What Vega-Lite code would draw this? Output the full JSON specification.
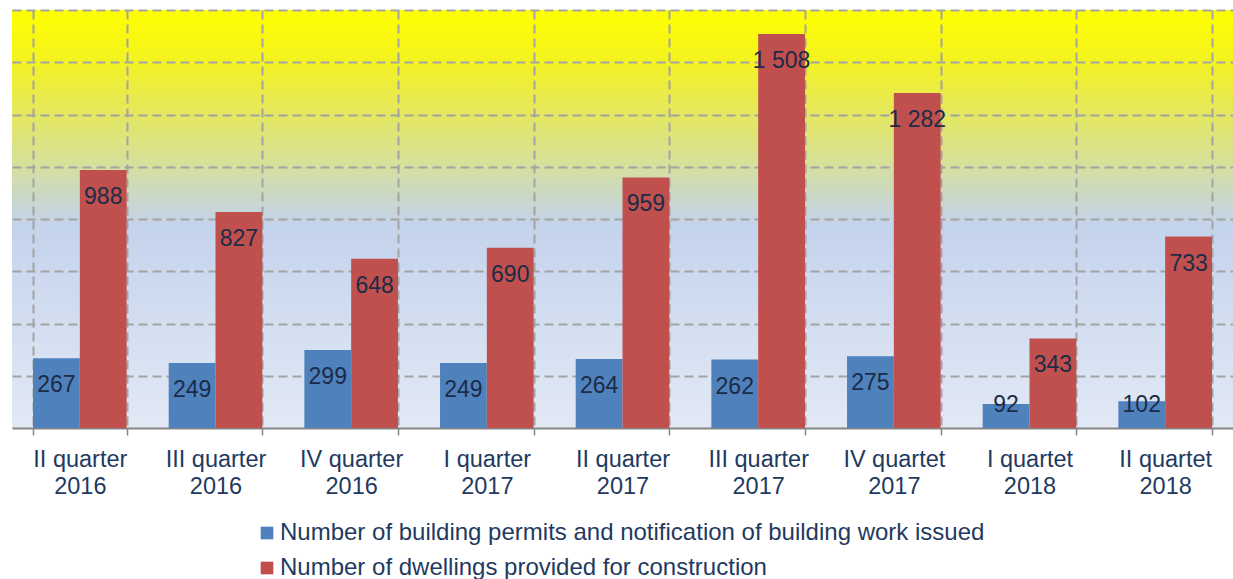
{
  "$schema": "https://vega.github.io/schema/vega-lite/v6.json",
  "width": 1221,
  "height": 418,
  "autosize": {"type": "none"},
  "padding": {"left": 12, "top": 10, "right": 0, "bottom": 151},
  "background": "white",
  "view": {
    "stroke": null,
    "fill": {
      "gradient": "linear", "x1": 0, "y1": 0, "x2": 0, "y2": 1,
      "stops": [
        {"offset": 0, "color": "#FFFF00"},
        {"offset": 0.12, "color": "#F3F320"},
        {"offset": 0.25, "color": "#E4E760"},
        {"offset": 0.37, "color": "#D6E09C"},
        {"offset": 0.455, "color": "#C9D7CC"},
        {"offset": 0.515, "color": "#C4D3EC"},
        {"offset": 1, "color": "#E2E9F5"}
      ]
    }
  },
  "config": {
    "font": "Liberation Sans",
    "locale": {"number": {"decimal": ".", "thousands": " ", "grouping": [3], "currency": ["", ""]}}
  },
  "data": {
    "values": [
      {"q": "II quarter\n2016", "series": "Number of building permits and notification of building work issued", "v": 267},
      {"q": "II quarter\n2016", "series": "Number of dwellings provided for construction", "v": 988},
      {"q": "III quarter\n2016", "series": "Number of building permits and notification of building work issued", "v": 249},
      {"q": "III quarter\n2016", "series": "Number of dwellings provided for construction", "v": 827},
      {"q": "IV quarter\n2016", "series": "Number of building permits and notification of building work issued", "v": 299},
      {"q": "IV quarter\n2016", "series": "Number of dwellings provided for construction", "v": 648},
      {"q": "I quarter\n2017", "series": "Number of building permits and notification of building work issued", "v": 249},
      {"q": "I quarter\n2017", "series": "Number of dwellings provided for construction", "v": 690},
      {"q": "II quarter\n2017", "series": "Number of building permits and notification of building work issued", "v": 264},
      {"q": "II quarter\n2017", "series": "Number of dwellings provided for construction", "v": 959},
      {"q": "III quarter\n2017", "series": "Number of building permits and notification of building work issued", "v": 262},
      {"q": "III quarter\n2017", "series": "Number of dwellings provided for construction", "v": 1508},
      {"q": "IV quartet\n2017", "series": "Number of building permits and notification of building work issued", "v": 275},
      {"q": "IV quartet\n2017", "series": "Number of dwellings provided for construction", "v": 1282},
      {"q": "I quartet\n2018", "series": "Number of building permits and notification of building work issued", "v": 92},
      {"q": "I quartet\n2018", "series": "Number of dwellings provided for construction", "v": 343},
      {"q": "II quartet\n2018", "series": "Number of building permits and notification of building work issued", "v": 102},
      {"q": "II quartet\n2018", "series": "Number of dwellings provided for construction", "v": 733}
    ]
  },
  "encoding": {
    "x": {
      "field": "q", "type": "nominal", "sort": null, "title": null,
      "scale": {"paddingInner": 0.31, "paddingOuter": 0.155},
      "axis": {
        "labelAngle": 0, "tickBand": "extent", "grid": true,
        "gridColor": "#A3A3A3", "gridDash": [9, 5], "gridWidth": 2,
        "domainColor": "#868686", "domainWidth": 2,
        "tickColor": "#868686", "tickSize": 7, "tickWidth": 1.5,
        "labelFontSize": 23.5, "labelColor": "#1F3A60", "labelPadding": 12,
        "labelLineHeight": 27, "labelExpr": "split(datum.label, '\\n')",
        "labelFont": "Liberation Sans"
      }
    },
    "xOffset": {"field": "series", "type": "nominal", "sort": null, "scale": {"paddingInner": 0, "paddingOuter": 0}},
    "y": {
      "field": "v", "type": "quantitative",
      "scale": {"domain": [0, 1600], "nice": false},
      "axis": {
        "values": [200, 400, 600, 800, 1000, 1200, 1400, 1600],
        "labels": false, "ticks": false, "domain": false, "title": null,
        "grid": true, "gridColor": "#A3A3A3", "gridDash": [9, 5], "gridWidth": 2
      }
    }
  },
  "layer": [
    {
      "mark": {"type": "bar"},
      "encoding": {
        "color": {
          "field": "series", "type": "nominal", "sort": null,
          "scale": {"range": ["#4F81BD", "#C0504D"]},
          "legend": {
            "orient": "none", "legendX": 243, "legendY": 511, "direction": "vertical",
            "title": null, "symbolType": "square", "symbolSize": 160,
            "symbolStrokeWidth": 0, "labelFontSize": 24, "labelColor": "#1F3A60",
            "labelLimit": 1000, "rowPadding": 11, "labelOffset": 1,
            "labelFont": "Liberation Sans"
          }
        }
      }
    },
    {
      "mark": {"type": "text", "baseline": "middle", "dy": {"expr": "min(27, datum.v * 0.26125 - 23)"}, "fontSize": 23, "color": "#1C2B47", "font": "Liberation Sans"},
      "encoding": {
        "text": {"field": "v", "type": "quantitative", "format": ",d"}
      }
    }
  ]
}
